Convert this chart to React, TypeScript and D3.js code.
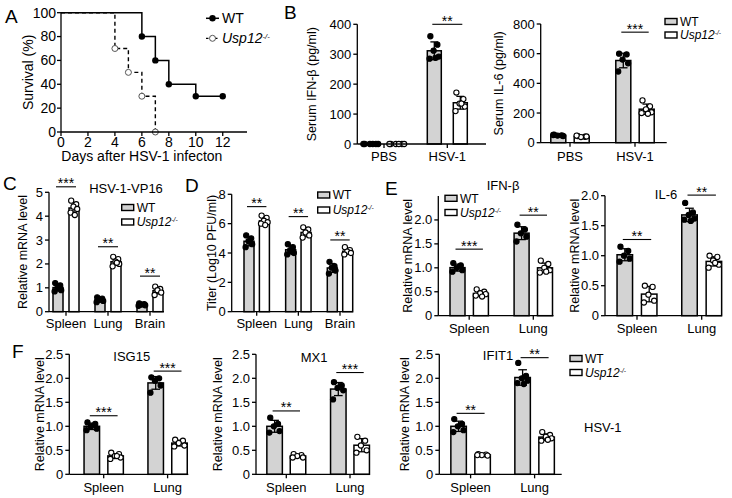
import React from 'react';
import * as d3 from 'd3';

const FONT = '"Liberation Sans", Arial, sans-serif';
const GREY = '#d3d3d3';

// ---------- A: survival ----------
const daysWT = [0, 6, 7, 8, 10, 12];
const survivalWT = [100, 80, 60, 40, 30, 30];
const daysKO = [0, 4, 5, 6, 7];
const survivalKO = [100, 70, 50, 30, 0];
const survivalTicksX = [0, 2, 4, 6, 8, 10, 12];
const survivalTicksY = [0, 20, 40, 60, 80, 100];

// ---------- B: serum cytokines ----------
const serumGroups = ['PBS', 'HSV-1'];
const ifnbSerumWT = [[0, 0, 0, 0, 0, 0], [360, 332, 312, 292, 285, 288]];
const ifnbSerumKO = [[0, 0, 0, 0, 0, 0], [172, 150, 135, 125, 110, 135]];
const ifnbSerumSig = ['', '**'];
const ifnbSerumSigLevel = [0, 400];
const il6SerumWT = [[55, 50, 48, 45, 52], [600, 595, 560, 535, 480]];
const il6SerumKO = [[45, 40, 38, 42, 48], [285, 245, 225, 205, 200, 195]];
const il6SerumSig = ['', '***'];
const il6SerumSigLevel = [0, 745];

// ---------- C: HSV-1-VP16 ----------
const organs3 = ['Spleen', 'Lung', 'Brain'];
const vp16WT = [[1.2, 1.1, 1.0, 0.9, 0.85], [0.6, 0.55, 0.5, 0.45, 0.4], [0.35, 0.32, 0.3, 0.27, 0.25]];
const vp16KO = [[4.65, 4.5, 4.4, 4.3, 4.15, 4.05], [2.3, 2.2, 2.1, 2.0, 1.9, 2.05], [1.05, 0.95, 0.9, 0.8, 0.7]];
const vp16Sig = ['***', '**', '**'];
const vp16SigLevel = [5.23, 2.72, 1.49];

// ---------- D: viral titer ----------
const titerWT = [[5.2, 5.0, 4.8, 4.6, 4.4], [4.6, 4.4, 4.2, 4.0, 3.9], [3.4, 3.1, 3.0, 2.8, 2.6]];
const titerKO = [[6.55, 6.4, 6.2, 6.1, 6.0, 5.9], [5.75, 5.6, 5.4, 5.2, 5.05], [4.4, 4.2, 4.1, 4.0, 3.9]];
const titerSig = ['**', '**', '**'];
const titerSigLevel = [7.16, 6.48, 4.89];

// ---------- E: tissue IFN-β / IL-6 ----------
const organs2 = ['Spleen', 'Lung'];
const ifnbWT = [[1.1, 1.05, 1.0, 0.95, 0.92], [1.9, 1.8, 1.72, 1.65, 1.55]];
const ifnbKO = [[0.55, 0.5, 0.47, 0.45, 0.42, 0.4], [1.15, 1.08, 1.0, 0.95, 0.9, 0.92]];
const ifnbSig = ['***', '**'];
const ifnbSigLevel = [1.39, 2.1];
const il6WT = [[1.15, 1.08, 1.0, 0.95, 0.9], [1.88, 1.72, 1.68, 1.62, 1.6, 1.58]];
const il6KO = [[0.5, 0.48, 0.35, 0.25, 0.22], [1.0, 0.98, 0.92, 0.85, 0.8, 0.88]];
const il6Sig = ['**', '**'];
const il6SigLevel = [1.27, 2.01];

// ---------- F: ISGs ----------
const isg15WT = [[1.08, 1.05, 1.0, 0.95, 0.92], [2.02, 2.0, 1.95, 1.85, 1.7]];
const isg15KO = [[0.45, 0.42, 0.38, 0.35, 0.32, 0.38], [0.72, 0.7, 0.65, 0.6, 0.58]];
const isg15Sig = ['***', '***'];
const isg15SigLevel = [1.22, 2.15];
const mx1WT = [[1.18, 1.05, 1.0, 0.9, 0.87], [1.92, 1.85, 1.8, 1.75, 1.56]];
const mx1KO = [[0.42, 0.4, 0.38, 0.35, 0.35], [0.78, 0.7, 0.6, 0.5, 0.45]];
const mx1Sig = ['**', '***'];
const mx1SigLevel = [1.32, 2.12];
const ifit1WT = [[1.15, 1.05, 1.0, 0.92, 0.88], [2.32, 2.05, 2.0, 1.95, 1.9, 1.88]];
const ifit1KO = [[0.42, 0.41, 0.4, 0.39, 0.4], [0.88, 0.82, 0.78, 0.75, 0.7, 0.72]];
const ifit1Sig = ['**', '**'];
const ifit1SigLevel = [1.27, 2.43];

const mrnaTicks = [0, 0.5, 1, 1.5, 2];
const mrnaTicksF = [0, 0.5, 1, 1.5, 2, 2.5];
const fmtMrna = (v: number) => (v === 0 ? '0' : v.toFixed(1));
const fmtInt = (v: number) => String(v);

// jitter pattern (fraction of bar width) for dot positions
const JIT = [-0.28, 0.22, -0.05, 0.32, -0.34, 0.08];

const KOLabel = ({ x, y, size = 12 }: any) => (
  <text x={x} y={y} fontSize={size} fontFamily={FONT}>
    <tspan fontStyle="italic">Usp12</tspan>
    <tspan fontStyle="italic" fontSize={size * 0.55} dy={-size * 0.32}>-/-</tspan>
  </text>
);

const BoxLegend = ({ x, y1, y2 }: any) => (
  <g>
    <rect x={x} y={y1 - 3} width={12} height={6} fill={GREY} stroke="#000" strokeWidth={1.4} />
    <text x={x + 15} y={y1 + 4.3} fontSize={12} fontFamily={FONT}>WT</text>
    <rect x={x} y={y2 - 3} width={12} height={6} fill="#fff" stroke="#000" strokeWidth={1.4} />
    <KOLabel x={x + 15} y={y2 + 4.3} />
  </g>
);

function BarPanel(p: any) {
  const y = d3.scaleLinear().domain([0, p.yMax]).range([p.zero, p.top]);
  const x = d3.scalePoint<string>().domain(p.groups).range([p.first, p.last]);
  const w = p.w;
  const series = [
    { data: p.wt, fill: GREY, dotFill: '#000', sign: -1 },
    { data: p.ko, fill: '#fff', dotFill: '#fff', sign: 1 },
  ];
  const midY = (p.zero + p.top) / 2;
  return (
    <g fontFamily={FONT}>
      {series.map((s, si) =>
        p.groups.map((g: string, gi: number) => {
          const vals: number[] = s.data[gi];
          const m = d3.mean(vals) ?? 0;
          const sd = d3.deviation(vals) ?? 0;
          const cx = (x(g) ?? 0) + s.sign * p.off;
          return (
            <g key={`${si}-${gi}`}>
              <rect x={cx - w / 2} y={y(m)} width={w} height={p.zero - y(m)}
                fill={s.fill} stroke="#000" strokeWidth={1.5} />
              <line x1={cx} x2={cx} y1={y(m - sd)} y2={y(m + sd)} stroke="#000" strokeWidth={1.3} />
              <line x1={cx - w * 0.28} x2={cx + w * 0.28} y1={y(m + sd)} y2={y(m + sd)} stroke="#000" strokeWidth={1.3} />
              <line x1={cx - w * 0.28} x2={cx + w * 0.28} y1={y(m - sd)} y2={y(m - sd)} stroke="#000" strokeWidth={1.3} />
              {vals.map((v, j) => (
                <circle key={j} cx={cx + JIT[j % JIT.length] * w * (m === 0 ? 1.6 : 1)} cy={y(v)} r={2.6}
                  fill={s.dotFill} stroke="#000" strokeWidth={1.1} />
              ))}
            </g>
          );
        })
      )}
      {/* axes */}
      <line x1={p.left} x2={p.left} y1={p.zero} y2={p.top} stroke="#000" strokeWidth={1.3} />
      <line x1={p.left} x2={p.right} y1={p.zero} y2={p.zero} stroke="#000" strokeWidth={1.3} />
      {p.ticks.map((t: number) => (
        <g key={t}>
          <line x1={p.left - 4} x2={p.left} y1={y(t)} y2={y(t)} stroke="#000" strokeWidth={1.3} />
          <text x={p.left - 6} y={y(t)} dy="0.35em" textAnchor="end" fontSize={13}>{p.fmt(t)}</text>
        </g>
      ))}
      {p.groups.map((g: string) => (
        <g key={g}>
          <line x1={x(g)} x2={x(g)} y1={p.zero} y2={p.zero + 4} stroke="#000" strokeWidth={1.3} />
          <text x={x(g)} y={p.catY} textAnchor="middle" fontSize={13}>{g}</text>
        </g>
      ))}
      {/* significance */}
      {p.groups.map((g: string, gi: number) =>
        p.sig[gi] ? (
          <g key={'s' + g}>
            <line x1={(x(g) ?? 0) - p.off - 2} x2={(x(g) ?? 0) + p.off + 2}
              y1={y(p.sigLevel[gi])} y2={y(p.sigLevel[gi])} stroke="#000" strokeWidth={1.1} />
            <text x={x(g)} y={y(p.sigLevel[gi]) + 1.5} textAnchor="middle" fontSize={14}>{p.sig[gi]}</text>
          </g>
        ) : null
      )}
      <text transform={`translate(${p.labelX},${midY}) rotate(-90)`} textAnchor="middle"
        dy="0.35em" fontSize={12.5}>{p.yLabel}</text>
      {p.title ? (
        <text x={p.titleX} y={p.titleY} textAnchor="middle" fontSize={13}>{p.title}</text>
      ) : null}
    </g>
  );
}

function SurvivalPanel() {
  const x = d3.scaleLinear().domain([0, 13.8]).range([61, 247]);
  const y = d3.scaleLinear().domain([0, 100]).range([132, 12.7]);
  const line = d3.line<[number, number]>().x((d) => x(d[0])).y((d) => y(d[1])).curve(d3.curveStepAfter);
  const wt = daysWT.map((d, i) => [d, survivalWT[i]] as [number, number]);
  const ko = daysKO.map((d, i) => [d, survivalKO[i]] as [number, number]);
  return (
    <g fontFamily={FONT}>
      <path d={line(ko) ?? ''} fill="none" stroke="#000" strokeWidth={1.4} strokeDasharray="4,3" />
      <path d={line(wt) ?? ''} fill="none" stroke="#000" strokeWidth={1.5} />
      {ko.slice(1).map((d, i) => (
        <circle key={'k' + i} cx={x(d[0])} cy={y(d[1])} r={3} fill="#fff" stroke="#555" strokeWidth={1} />
      ))}
      {wt.slice(1).map((d, i) => (
        <circle key={'w' + i} cx={x(d[0])} cy={y(d[1])} r={3.2} fill="#000" />
      ))}
      <line x1={x(0)} x2={x(13.8)} y1={y(0)} y2={y(0)} stroke="#000" strokeWidth={1.3} />
      <line x1={x(0)} x2={x(0)} y1={y(0)} y2={y(100)} stroke="#000" strokeWidth={1.3} />
      {survivalTicksX.map((t) => (
        <g key={'x' + t}>
          <line x1={x(t)} x2={x(t)} y1={y(0)} y2={y(0) + 4} stroke="#000" strokeWidth={1.3} />
          <text x={x(t)} y={y(0) + 14.5} textAnchor="middle" fontSize={14}>{t}</text>
        </g>
      ))}
      {survivalTicksY.map((t) => (
        <g key={'y' + t}>
          <line x1={x(0) - 4} x2={x(0)} y1={y(t)} y2={y(t)} stroke="#000" strokeWidth={1.3} />
          <text x={x(0) - 5} y={y(t)} dy="0.35em" textAnchor="end" fontSize={14}>{t}</text>
        </g>
      ))}
      <text x={x(6)} y={161} textAnchor="middle" fontSize={14}>Days after HSV-1 infecton</text>
      <text transform={`translate(28,${(y(0) + y(100)) / 2}) rotate(-90)`} textAnchor="middle" dy="0.35em" fontSize={14}>Survival (%)</text>
      {/* legend */}
      <line x1={206} x2={219} y1={18.3} y2={18.3} stroke="#000" strokeWidth={1.5} />
      <circle cx={212.5} cy={18.3} r={3.2} fill="#000" />
      <text x={222} y={23} fontSize={14}>WT</text>
      <line x1={206} x2={219} y1={38.3} y2={38.3} stroke="#000" strokeWidth={1.3} strokeDasharray="2.5,2" />
      <circle cx={212.5} cy={38.3} r={3} fill="#fff" stroke="#555" strokeWidth={1} />
      <KOLabel x={222} y={43} size={14} />
    </g>
  );
}

export default function App() {
  const letter = (t: string, x: number, y: number) => (
    <text x={x} y={y} fontSize={19} fontFamily={FONT}>{t}</text>
  );
  return (
    <svg width={732} height={498} style={{ position: 'absolute', left: 0, top: 0, background: '#fff' }}>
      <rect width={732} height={498} fill="#fff" />
      {letter('A', 5, 23)}
      {letter('B', 284, 18.5)}
      {letter('C', 3, 190)}
      {letter('D', 185, 191.5)}
      {letter('E', 385, 195)}
      {letter('F', 12, 358)}

      <SurvivalPanel />

      <BarPanel groups={serumGroups} wt={ifnbSerumWT} ko={ifnbSerumKO} sig={ifnbSerumSig} sigLevel={ifnbSerumSigLevel}
        yMax={400} ticks={[0, 100, 200, 300, 400]} fmt={fmtInt}
        left={357.3} right={486} zero={144} top={24.3} first={384} last={447.3} off={13} w={14}
        catY={161} labelX={312} yLabel="Serum IFN-β (pg/ml)" />
      <BarPanel groups={serumGroups} wt={il6SerumWT} ko={il6SerumKO} sig={il6SerumSig} sigLevel={il6SerumSigLevel}
        yMax={800} ticks={[0, 200, 400, 600, 800]} fmt={fmtInt}
        left={540.7} right={666.7} zero={142.7} top={24} first={570} last={635} off={11.7} w={15}
        catY={161} labelX={499} yLabel="Serum IL-6 (pg/ml)" />
      <BoxLegend x={665} y1={21.5} y2={35} />

      <BarPanel groups={organs3} wt={vp16WT} ko={vp16KO} sig={vp16Sig} sigLevel={vp16SigLevel}
        yMax={5} ticks={[0, 1, 2, 3, 4, 5]} fmt={fmtInt}
        left={49} right={164} zero={311.7} top={192.3} first={66} last={150} off={8} w={10}
        catY={328} labelX={22.5} yLabel="Relative mRNA level" title="HSV-1-VP16" titleX={126} titleY={193} />
      <BoxLegend x={121.7} y1={207.5} y2={222} />

      <BarPanel groups={organs3} wt={titerWT} ko={titerKO} sig={titerSig} sigLevel={titerSigLevel}
        yMax={8} ticks={[0, 2, 4, 6, 8]} fmt={fmtInt}
        left={231.7} right={353} zero={311.7} top={194.3} first={256.7} last={340} off={7.7} w={10}
        catY={328} labelX={211.7} yLabel="Titer (Log10 PFU/ml)" />
      <BoxLegend x={317.7} y1={195} y2={210} />

      <BarPanel groups={organs2} wt={ifnbWT} ko={ifnbKO} sig={ifnbSig} sigLevel={ifnbSigLevel}
        yMax={2.5} ticks={mrnaTicks} fmt={fmtMrna}
        left={438.3} right={553.5} zero={315.7} top={196} first={469.2} last={533.3} off={11.7} w={15}
        catY={333} labelX={408} yLabel="Relative mRNA level" title="IFN-β" titleX={503} titleY={190} />
      <BoxLegend x={445} y1={198.3} y2={212.5} />

      <BarPanel groups={organs2} wt={il6WT} ko={il6KO} sig={il6Sig} sigLevel={il6SigLevel}
        yMax={2} ticks={mrnaTicks} fmt={fmtMrna}
        left={605} right={722} zero={315.7} top={195.7} first={637} last={701.7} off={12.2} w={15.5}
        catY={333} labelX={575} yLabel="Relative mRNA level" title="IL-6" titleX={666} titleY={199} />

      <BarPanel groups={organs2} wt={isg15WT} ko={isg15KO} sig={isg15Sig} sigLevel={isg15SigLevel}
        yMax={2.5} ticks={mrnaTicksF} fmt={fmtMrna}
        left={69.3} right={188.3} zero={474.3} top={354.3} first={103.7} last={167.6} off={11.9} w={15.5}
        catY={492} labelX={40} yLabel="Relative mRNA level" title="ISG15" titleX={131.7} titleY={361} />
      <BarPanel groups={organs2} wt={mx1WT} ko={mx1KO} sig={mx1Sig} sigLevel={mx1SigLevel}
        yMax={2.5} ticks={mrnaTicksF} fmt={fmtMrna}
        left={256} right={370} zero={474.3} top={354.3} first={286.3} last={350} off={11.7} w={15.5}
        catY={492} labelX={218} yLabel="Relative mRNA level" title="MX1" titleX={314} titleY={362} />
      <BarPanel groups={organs2} wt={ifit1WT} ko={ifit1KO} sig={ifit1Sig} sigLevel={ifit1SigLevel}
        yMax={2.5} ticks={mrnaTicksF} fmt={fmtMrna}
        left={439.3} right={561.7} zero={474.3} top={354.3} first={470.6} last={534.6} off={12} w={15.5}
        catY={492} labelX={405} yLabel="Relative mRNA level" title="IFIT1" titleX={498} titleY={360} />
      <BoxLegend x={570} y1={358.5} y2={372.5} />
      <text x={584} y={432} fontSize={13} fontFamily={FONT}>HSV-1</text>
    </svg>
  );
}
